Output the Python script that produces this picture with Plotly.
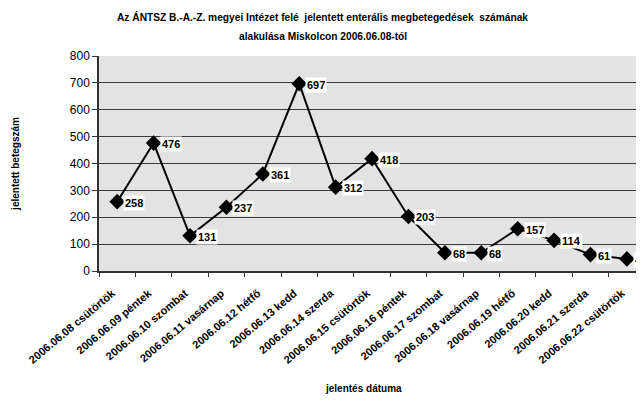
import plotly.graph_objects as go

categories = [
    "2006.06.08 csütörtök", "2006.06.09 péntek", "2006.06.10 szombat",
    "2006.06.11 vasárnap", "2006.06.12 hétfő", "2006.06.13 kedd",
    "2006.06.14 szerda", "2006.06.15 csütörtök", "2006.06.16 péntek",
    "2006.06.17 szombat", "2006.06.18 vasárnap", "2006.06.19 hétfő",
    "2006.06.20 kedd", "2006.06.21 szerda", "2006.06.22 csütörtök",
]
values = [258, 476, 131, 237, 361, 697, 312, 418, 203, 68, 68, 157, 114, 61, 45]
y_ticks = [0, 100, 200, 300, 400, 500, 600, 700, 800]
title_lines = [
    "Az ÁNTSZ B.-A.-Z. megyei Intézet felé  jelentett enterális megbetegedések  számának",
    "alakulása Miskolcon 2006.06.08-tól",
]
x_title = "jelentés dátuma"
y_title = "jelentett betegszám"

FONT = "Liberation Sans, Arial, sans-serif"
PLOT_H = 215

fig = go.Figure()
fig.add_trace(go.Scatter(
    x=categories, y=values, mode="lines+markers",
    line=dict(color="black", width=2),
    marker=dict(symbol="diamond", size=12, color="black"),
    cliponaxis=True, showlegend=False,
))

for c, v in zip(categories, values):
    fig.add_annotation(
        x=c, y=v, text=f"<b>{v}</b>", showarrow=False,
        xanchor="left", yanchor="middle", xshift=6, yshift=-1,
        bgcolor="white", borderpad=1,
        font=dict(family=FONT, size=11, color="black"),
    )

for line, ypix in zip(title_lines, [17, 37]):
    fig.add_annotation(
        xref="paper", yref="paper", x=0.411, y=1 + (56 - ypix) / PLOT_H,
        text=f"<b>{line}</b>", showarrow=False,
        xanchor="center", yanchor="middle",
        font=dict(family=FONT, size=10.2, color="black"),
    )

fig.add_annotation(
    xref="paper", yref="paper", x=0.486, y=-(388 - 271) / PLOT_H,
    text=f"<b>{x_title}</b>", showarrow=False,
    xanchor="center", yanchor="middle",
    font=dict(family=FONT, size=10, color="black"),
)

fig.update_layout(
    template="none",
    width=636, height=396,
    margin=dict(l=91, r=0, t=48, b=133),
    paper_bgcolor="white", plot_bgcolor="#e3e3e3",
    font=dict(family=FONT, color="black"),
)

fig.update_xaxes(
    type="category", range=[-0.5, 14.47], automargin=False,
    tickangle=-40, tickfont=dict(family=FONT, size=11, color="black"),
    tickprefix="<b>", ticksuffix="</b>",
    ticklabelstandoff=10, ticklabelshift=-5,
    showgrid=False, zeroline=False,
    showline=True, linecolor="#333333", linewidth=1.5,
    ticks="outside", ticklen=4, tickcolor="#333333", tickson="boundaries",
)
fig.update_yaxes(
    range=[0, 800], tickmode="array", tickvals=y_ticks, automargin=False,
    tickfont=dict(family=FONT, size=12, color="black"),
    showgrid=True, gridcolor="#3a3a3a", gridwidth=1,
    zeroline=False, showline=True, linecolor="#333333", linewidth=1.5,
    ticks="outside", ticklen=5, tickcolor="#333333",
    title=dict(text=f"<b>{y_title}</b>", font=dict(family=FONT, size=10, color="black"), standoff=48),
)

fig.write_html("out.html")
